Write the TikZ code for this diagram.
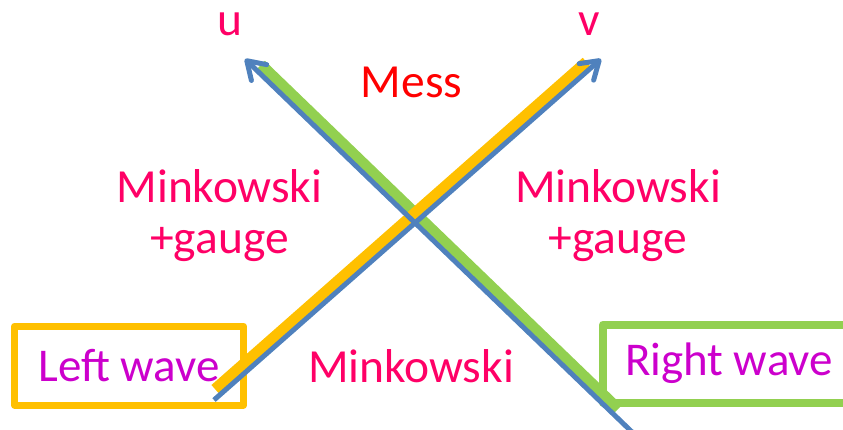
\documentclass[tikz,border=0pt]{standalone}
\usepackage{fontspec}
\setmainfont{Carlito}
\usetikzlibrary{arrows.meta}
\definecolor{pinkred}{HTML}{FF0066}
\definecolor{messred}{HTML}{FF0000}
\definecolor{wavepurple}{HTML}{CC00CC}
\definecolor{axisblue}{HTML}{4F81BD}
\definecolor{waveorange}{HTML}{FFC000}
\definecolor{wavegreen}{HTML}{92D050}
\begin{document}
\begin{tikzpicture}[x=1pt, y=-1pt,
  lbl/.style={text=pinkred, font=\fontsize{47.5}{51}\selectfont, inner sep=0pt},
  wavebox/.style={text=wavepurple, font=\fontsize{47}{51}\selectfont, line join=round},
  axis/.style={draw=axisblue, line width=5pt, -{Straight Barb[length=17pt,width=22pt,round]}},
  band/.style={line width=12pt}]
\useasboundingbox (0,0) rectangle (843,429);
\node[wavebox, draw=waveorange, line width=7pt, minimum width=229pt, minimum height=79pt] (leftwave) at (129,365.5) {Left wave};
\node[wavebox, draw=wavegreen, line width=8pt, minimum width=252pt, minimum height=78pt] (rightwave) at (729,363.5) {Right wave};
\node[lbl, anchor=base] (u) at (230,35) {u};
\node[lbl, anchor=base] (v) at (589,35) {v};
\node[lbl, anchor=base, text=messred] (mess) at (411.5,97) {Mess};
\node[lbl, anchor=base, align=center] (mgleft) at (219.5,253) {Minkowski\\+gauge};
\node[lbl, anchor=base, align=center] (mgright) at (618,253) {Minkowski\\+gauge};
\node[lbl, anchor=base] (mink) at (411,382) {Minkowski};
\coordinate (ubot) at (632,432);
\coordinate (utop) at (245,59);
\coordinate (vbot) at (214,400);
\coordinate (vtop) at (601,59);
\coordinate (gbot) at (617.8,409.3);
\coordinate (gtop) at (260.7,65.1);
\coordinate (obot) at (215.4,389.5);
\coordinate (otop) at (586.7,62.3);
\draw[band, wavegreen] (gbot) -- (gtop);
\draw[band, waveorange] (obot) -- (otop);
\draw[axis] (vbot) -- (vtop);
\draw[axis] (ubot) -- (utop);
\end{tikzpicture}
\end{document}
